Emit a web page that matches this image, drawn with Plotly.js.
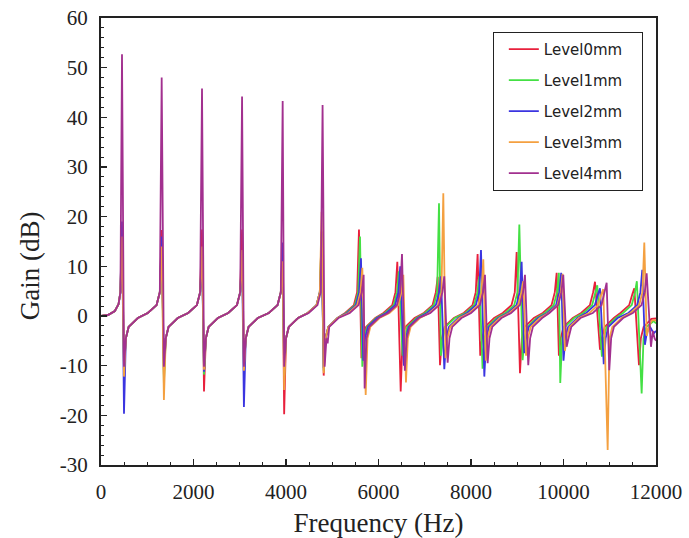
<!DOCTYPE html>
<html><head><meta charset="utf-8">
<script src="https://cdn.plot.ly/plotly-3.0.1.min.js"></script>
<style>html,body{margin:0;padding:0;background:#fff}</style>
</head><body><div id="chart" style="width:689px;height:538px"></div>
<script>
// Series names (legend)
const seriesNames = ['Level0mm','Level1mm','Level2mm','Level3mm','Level4mm'];

// Axis tick values and labels
const xTickVals = [0, 2000, 4000, 6000, 8000, 10000, 12000];
const xTickText = ['0','2000','4000','6000','8000','10000','12000'];
const yTickVals = [-30, -20, -10, 0, 10, 20, 30, 40, 50, 60];
const yTickText = ['-30','-20','-10','0','10','20','30','40','50','60'];

// [frequency Hz, gain dB] points
const level0 = [[0,0],[150,0.2],[300,1.0],[380,2.4],[420,4.8],[454,18],[497,-11],
[537,-4.5],[597,-2.2],[797,-0.4],[1012,0.6],[1202,2.2],[1272,4.8],[1312,17.3],[1360,-12],
[1400,-4.5],[1460,-2.2],[1660,-0.4],[1884,0.6],[2074,2.2],[2144,4.8],[2184,17.4],[2227,-15.2],
[2267,-4.5],[2327,-2.2],[2527,-0.4],[2750,0.6],[2940,2.2],[3010,4.8],[3050,17.4],[3090,-10.5],
[3130,-4.5],[3190,-2.2],[3390,-0.4],[3628,0.6],[3818,2.2],[3888,4.8],[3928,12.7],[3960,-19.8],
[4000,-4.5],[4060,-2.2],[4260,-0.4],[4471,0.6],[4661,2.2],[4731,4.8],[4771,17],[4815,-12],
[4855,-4.5],[4915,-2.2],[5115,-0.4],[5278,0.6],[5468,2.2],[5538,4.8],[5578,17.4],[5630,-8.5],
[5670,-4.5],[5730,-2.2],[5930,-0.4],[6107,0.6],[6297,2.2],[6367,4.8],[6407,10.9],[6480,-15.2],
[6520,-4.5],[6580,-2.2],[6780,-0.4],[6980,0.6],[7170,2.2],[7240,4.8],[7280,7.9],[7330,-9.9],
[7370,-4.5],[7430,-2.2],[7630,-0.4],[7843,0.6],[8033,2.2],[8103,4.8],[8143,12.5],[8200,-8],
[8240,-4.5],[8300,-2.2],[8500,-0.4],[8687,0.6],[8877,2.2],[8947,4.8],[8987,12.9],[9059,-11.5],
[9099,-4.5],[9159,-2.2],[9359,-0.4],[9552,0.6],[9742,2.2],[9812,4.8],[9852,8.7],[9900,-8],
[9940,-4.5],[10000,-2.2],[10200,-0.4],[10381,0.6],[10571,2.2],[10641,4.8],[10681,6.9],[10789,-6.8],
[10829,-4.5],[10889,-2.2],[11089,-0.4],[11231,0.6],[11421,2.2],[11491,4.5],[11531,5.6],[11632,-9.9],
[11672,-4.5],[11732,-2.2],[11900,-0.6],[12000,-0.5]];

const level1 = [[0,0],[150,0.2],[300,1.0],[380,2.4],[420,4.8],[454,17],[497,-11],
[537,-4.5],[597,-2.2],[797,-0.4],[1012,0.6],[1202,2.2],[1272,4.8],[1312,15],[1360,-13.5],
[1400,-4.5],[1460,-2.2],[1660,-0.4],[1884,0.6],[2074,2.2],[2144,4.8],[2184,13],[2227,-11.8],
[2267,-4.5],[2327,-2.2],[2527,-0.4],[2750,0.6],[2940,2.2],[3010,4.8],[3050,12],[3090,-10.5],
[3130,-4.5],[3190,-2.2],[3390,-0.4],[3628,0.6],[3818,2.2],[3888,4.8],[3928,12],[3960,-12],
[4000,-4.5],[4060,-2.2],[4260,-0.4],[4471,0.6],[4661,2.2],[4731,4.8],[4771,16.5],[4815,-11],
[4855,-4.5],[4915,-2.2],[5115,-0.4],[5300,0.6],[5490,2.2],[5560,4.8],[5600,16],[5650,-10.2],
[5690,-4.5],[5750,-2.2],[5950,-0.4],[6140,0.6],[6330,2.2],[6400,4.8],[6440,9],[6520,-8],
[6560,-4.5],[6620,-2.2],[6820,-0.4],[7008,0.6],[7198,2.2],[7268,4.8],[7308,22.7],[7350,-8],
[7390,-4.5],[7450,-2.2],[7650,-0.4],[7880,0.6],[8070,2.2],[8140,4.8],[8180,8],[8250,-10.6],
[8290,-4.5],[8350,-2.2],[8550,-0.4],[8745,0.6],[8935,2.2],[9005,4.8],[9045,18.4],[9116,-8.9],
[9156,-4.5],[9216,-2.2],[9416,-0.4],[9600,0.6],[9790,2.2],[9860,4.8],[9900,8.7],[9930,-13.5],
[9970,-4.5],[10030,-2.2],[10230,-0.4],[10430,0.6],[10620,2.2],[10690,4.8],[10730,6.2],[10830,-8.2],
[10870,-4.5],[10930,-2.2],[11130,-0.4],[11286,0.6],[11476,2.2],[11546,4.8],[11586,7],[11690,-15.6],
[11730,-4.5],[11790,-2.2],[11950,-1.0],[12000,-1.5]];

const level2 = [[0,0],[150,0.2],[300,1.0],[380,2.4],[420,4.8],[454,19],[497,-19.7],
[537,-4.5],[597,-2.2],[797,-0.4],[1012,0.6],[1202,2.2],[1272,4.8],[1312,16],[1360,-11],
[1400,-4.5],[1460,-2.2],[1660,-0.4],[1884,0.6],[2074,2.2],[2144,4.8],[2184,12],[2227,-11.2],
[2267,-4.5],[2327,-2.2],[2527,-0.4],[2750,0.6],[2940,2.2],[3010,4.8],[3050,12.5],[3090,-18.3],
[3130,-4.5],[3190,-2.2],[3390,-0.4],[3628,0.6],[3818,2.2],[3888,4.8],[3928,14.8],[3960,-11],
[4000,-4.5],[4060,-2.2],[4260,-0.4],[4471,0.6],[4661,2.2],[4731,4.8],[4771,13],[4815,-10.5],
[4855,-4.5],[4915,-2.2],[5115,-0.4],[5321,0.6],[5511,2.2],[5581,4.8],[5621,11.6],[5670,-9],
[5710,-4.5],[5770,-2.2],[5970,-0.4],[6170,0.6],[6360,2.2],[6430,4.8],[6470,10],[6550,-10],
[6590,-4.5],[6650,-2.2],[6850,-0.4],[7050,0.6],[7240,2.2],[7310,4.8],[7350,8],[7423,-10.7],
[7463,-4.5],[7523,-2.2],[7723,-0.4],[7916,0.6],[8106,2.2],[8176,4.8],[8216,13.3],[8288,-12.2],
[8328,-4.5],[8388,-2.2],[8588,-0.4],[8795,0.6],[8985,2.2],[9055,4.8],[9095,10.9],[9150,-7.5],
[9190,-4.5],[9250,-2.2],[9450,-0.4],[9650,0.6],[9840,2.2],[9910,4.8],[9950,8.7],[10000,-9],
[10040,-4.5],[10100,-2.2],[10300,-0.4],[10489,0.6],[10679,2.2],[10749,4.5],[10789,5.6],[10870,-9.7],
[10910,-4.5],[10970,-2.2],[11170,-0.4],[11403,0.6],[11593,2.2],[11663,4.8],[11703,9.3],[11760,-5.8],
[11800,-3.5],[11860,-2.0],[11950,-3.5],[12000,-3]];

const level3 = [[0,0],[150,0.2],[300,1.0],[380,2.4],[420,4.8],[454,16],[497,-12.2],
[537,-4.5],[597,-2.2],[797,-0.4],[1012,0.6],[1202,2.2],[1272,4.8],[1312,14],[1360,-16.9],
[1400,-4.5],[1460,-2.2],[1660,-0.4],[1884,0.6],[2074,2.2],[2144,4.8],[2184,14],[2227,-10.8],
[2267,-4.5],[2327,-2.2],[2527,-0.4],[2750,0.6],[2940,2.2],[3010,4.8],[3050,13.3],[3090,-11],
[3130,-4.5],[3190,-2.2],[3390,-0.4],[3628,0.6],[3818,2.2],[3888,4.8],[3928,11],[3960,-14.9],
[4000,-4.5],[4060,-2.2],[4260,-0.4],[4471,0.6],[4661,2.2],[4731,4.8],[4771,21],[4815,-11.5],
[4855,-4.5],[4915,-2.2],[5115,-0.4],[5350,0.6],[5540,2.2],[5610,4.8],[5650,9.7],[5723,-15.9],
[5763,-4.5],[5823,-2.2],[6023,-0.4],[6237,0.6],[6427,2.2],[6497,4.8],[6537,8.3],[6594,-13.4],
[6634,-4.5],[6694,-2.2],[6894,-0.4],[7101,0.6],[7291,2.2],[7361,4.8],[7401,24.7],[7450,-8.5],
[7490,-4.5],[7550,-2.2],[7750,-0.4],[7966,0.6],[8156,2.2],[8226,4.8],[8266,11.4],[8320,-9],
[8360,-4.5],[8420,-2.2],[8620,-0.4],[8830,0.6],[9020,2.2],[9090,4.8],[9130,7],[9190,-8],
[9230,-4.5],[9290,-2.2],[9490,-0.4],[9680,0.6],[9870,2.2],[9940,4.8],[9980,8.5],[10030,-7],
[10070,-4.5],[10130,-2.2],[10330,-0.4],[10560,0.6],[10750,2.2],[10820,4.4],[10860,5.4],[10955,-27],
[10995,-4.5],[11055,-2.2],[11255,-0.4],[11447,0.6],[11637,2.2],[11707,4.8],[11747,14.8],[11800,-4],
[11840,-2.5],[11900,-1.0],[11960,-0.8],[12000,-1]];

const level4 = [[0,0],[150,0.2],[300,1.0],[380,2.4],[420,4.8],[454,52.7],[497,-10.2],
[537,-4.5],[597,-2.2],[797,-0.4],[1012,0.6],[1202,2.2],[1272,4.8],[1312,48],[1360,-10.2],
[1400,-4.5],[1460,-2.2],[1660,-0.4],[1884,0.6],[2074,2.2],[2144,4.8],[2184,45.8],[2227,-10.2],
[2267,-4.5],[2327,-2.2],[2527,-0.4],[2750,0.6],[2940,2.2],[3010,4.8],[3050,44.2],[3090,-10.2],
[3130,-4.5],[3190,-2.2],[3390,-0.4],[3628,0.6],[3818,2.2],[3888,4.8],[3928,43.3],[3960,-10.2],
[4000,-4.5],[4060,-2.2],[4260,-0.4],[4491,0.6],[4681,2.2],[4751,4.8],[4791,42.5],[4835,-10.2],
[4875,-4.5],[4900,-5.5],[4935,-2.2],[5135,-0.4],[5379,0.6],[5569,2.2],[5639,4.8],[5679,8.3],[5700,-14.6],
[5740,-4.5],[5800,-2.2],[6000,-0.4],[6208,0.6],[6398,2.2],[6468,4.8],[6508,12.5],[6570,-11],
[6610,-4.5],[6670,-2.2],[6870,-0.4],[7122,0.6],[7312,2.2],[7382,4.8],[7422,8],[7495,-9.4],
[7535,-4.5],[7595,-2.2],[7795,-0.4],[8002,0.6],[8192,2.2],[8262,4.8],[8302,8.3],[8360,-9.5],
[8400,-4.5],[8460,-2.2],[8660,-0.4],[8867,0.6],[9057,2.2],[9127,4.8],[9167,8.3],[9238,-9.9],
[9278,-4.5],[9338,-2.2],[9538,-0.4],[9695,0.6],[9885,2.2],[9955,4.8],[9995,8.3],[10068,-6.2],
[10108,-4.5],[10168,-2.2],[10368,-0.4],[10633,0.6],[10823,2.2],[10893,4.8],[10933,6.7],[10990,-10.9],
[11030,-4.5],[11090,-2.2],[11290,-0.4],[11498,0.6],[11688,2.2],[11758,4.8],[11798,8.6],[11891,-6.2],
[11931,-3],[11970,-4.5],[12000,-5]];

const seriesData = [level0, level1, level2, level3, level4];
const colors = ['#e8203c','#44e044','#3b35e0','#f4a040','#a2308f'];
const legendPad = '\u00a0\u00a0\u00a0';

const traces = seriesData.map((pts, i) => ({
  type: 'scatter', mode: 'lines', name: seriesNames[i] + legendPad,
  x: pts.map(p => p[0]), y: pts.map(p => p[1]),
  line: {color: colors[i], width: 1.8},
  legendgroup: 'g' + i
}));

const serif = 'Liberation Serif, Times New Roman, serif';
const layout = {
  width: 689, height: 538,
  margin: {l: 101, r: 33, t: 18, b: 73},
  paper_bgcolor: '#fff', plot_bgcolor: '#fff',
  showlegend: true,
  xaxis: {
    range: [0, 12000], tickmode: 'array', tickvals: xTickVals, ticktext: xTickText,
    ticks: 'inside', ticklen: 6, tickwidth: 1.2, tickcolor: '#222',
    minor: {ticks: 'inside', ticklen: 3, dtick: 500, tick0: 0, tickcolor: '#222', tickwidth: 1},
    showline: true, linecolor: '#222', linewidth: 2, mirror: true,
    showgrid: false, zeroline: false, ticklabelstandoff: 7,
    tickfont: {family: serif, size: 21, color: '#222'},
    title: {text: 'Frequency (Hz)', font: {family: serif, size: 27, color: '#222'}, standoff: 10}
  },
  yaxis: {
    range: [-30, 60], tickmode: 'array', tickvals: yTickVals, ticktext: yTickText,
    ticks: 'inside', ticklen: 6, tickwidth: 1.2, tickcolor: '#222',
    minor: {ticks: 'inside', ticklen: 3, dtick: 2, tick0: 0, tickcolor: '#222', tickwidth: 1},
    showline: true, linecolor: '#222', linewidth: 2, mirror: true,
    showgrid: false, zeroline: false, ticklabelstandoff: 7,
    tickfont: {family: serif, size: 21, color: '#222'}
  },
  annotations: [{
    text: 'Gain (dB)', textangle: -90, showarrow: false,
    xref: 'paper', yref: 'paper', x: -0.128, y: 0.447,
    xanchor: 'center', yanchor: 'middle',
    font: {family: serif, size: 27, color: '#222'}
  }],
  legend: {
    x: 0.706, y: 0.969, xanchor: 'left', yanchor: 'top',
    bordercolor: '#222', borderwidth: 1, bgcolor: '#fff',
    font: {family: 'DejaVu Sans, sans-serif', size: 15, color: '#222'},
    tracegroupgap: 8.5, indentation: 10
  }
};

Plotly.newPlot('chart', traces, layout, {displayModeBar: false, staticPlot: true});
</script>
</body></html>
